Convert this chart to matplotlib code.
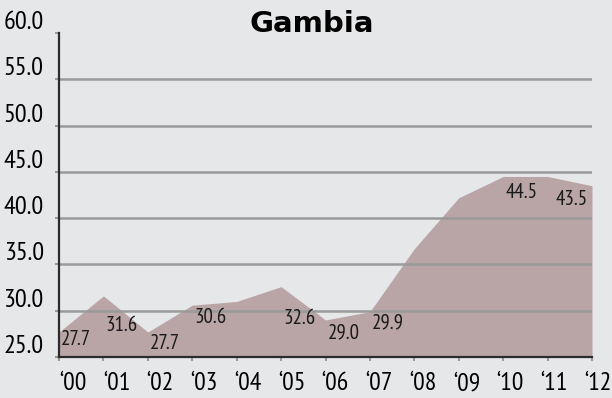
import matplotlib.pyplot as plt
from matplotlib.transforms import ScaledTranslation

years = ['‘00', '‘01', '‘02', '‘03', '‘04', '‘05', '‘06', '‘07', '‘08', '‘09', '‘10', '‘11', '‘12']
values = [27.7, 31.6, 27.7, 30.6, 31.0, 32.6, 29.0, 29.9, 36.7, 42.2, 44.5, 44.5, 43.5]
yticks = [25, 30, 35, 40, 45, 50, 55, 60]

# which points get a value label, and how far below the point (px) the label sits
labelled = [0, 1, 2, 3, 5, 6, 7, 10, 12]
label_drop = [7, 30, 11, 12, 32, 13, 11, 16, 14]

bg = '#e6e7e9'
fill = '#b9a4a6'
narrow = ['PT Sans Narrow', 'Roboto Condensed', 'DejaVu Sans']

fig = plt.figure(figsize=(6.12, 3.98), dpi=100, facecolor=bg)
ax = fig.add_axes([59 / 612, 41 / 398, 533 / 612, 324 / 398])
ax.set_facecolor(bg)

x = list(range(len(years)))
ax.fill_between(x, 25, values, color=fill, lw=0, zorder=1)

ax.set_xlim(0, 12)
ax.set_ylim(25, 60)
ax.set_yticks(yticks)
ax.set_yticklabels([f'{v:.1f}' for v in yticks])
ax.set_xticks(x)
ax.set_xticklabels(years)

for v in yticks[1:-1]:
    ax.axhline(v, color='#9a9a9a', lw=1.8, zorder=2)

for s in ['top', 'right']:
    ax.spines[s].set_visible(False)
for s in ['left', 'bottom']:
    ax.spines[s].set_color('#2b2b2b')
    ax.spines[s].set_linewidth(1.6)
    ax.spines[s].set_zorder(3)

ax.tick_params(axis='y', length=3, width=1.5, color='#9a9a9a', pad=8, labelsize=19)
ax.tick_params(axis='x', length=3, width=1.5, color='#9a9a9a', pad=8, labelsize=18.5)
up = ScaledTranslation(0, 13 / 100, fig.dpi_scale_trans)
for lab in ax.get_yticklabels():
    lab.set_family(narrow)
    lab.set_transform(lab.get_transform() + up)
# year labels sit a little right of their ticks, less so towards the right edge
for i, lab in enumerate(ax.get_xticklabels()):
    lab.set_family(narrow)
    shift = ScaledTranslation((14 - 0.7 * i) / 100, 0, fig.dpi_scale_trans)
    lab.set_transform(lab.get_transform() + shift)

for i, d in zip(labelled, label_drop):
    ha = 'right' if i == len(years) - 1 else 'left'
    dx = -4 if ha == 'right' else 2
    ax.annotate(f'{values[i]:.1f}', (i, values[i]), xytext=(dx * 0.72, -d * 0.72),
                textcoords='offset points', ha=ha, va='center',
                fontsize=15, family=narrow, color='#1a1a1a', zorder=4)

fig.text(312 / 612, 1 - 24 / 398, 'Gambia', ha='center', va='center',
         fontsize=21, fontweight='bold', family='DejaVu Sans')

fig.savefig('out.png', dpi=100, facecolor=bg)
